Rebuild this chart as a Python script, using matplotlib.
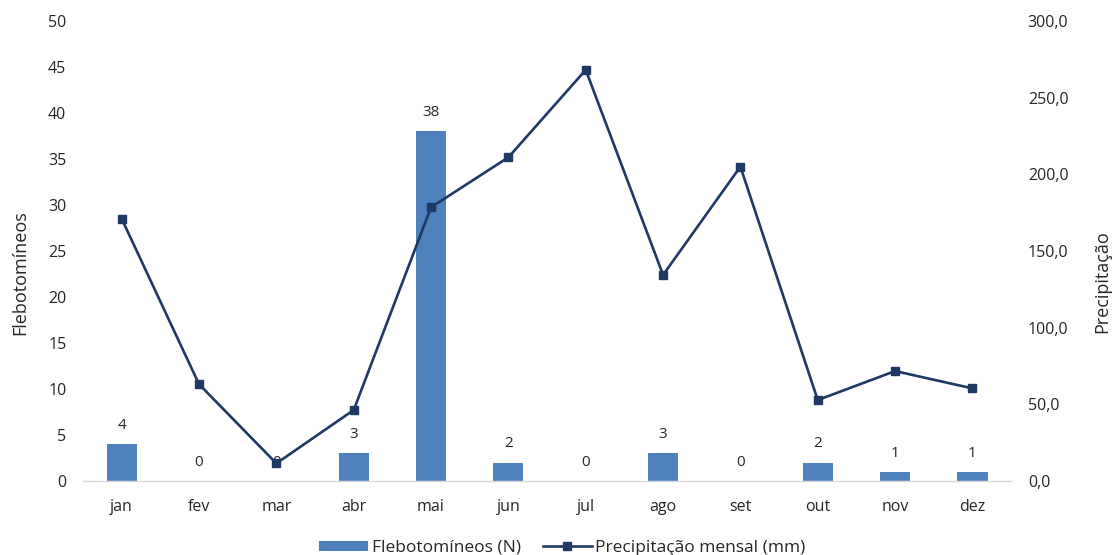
import matplotlib.pyplot as plt
import numpy as np
from matplotlib.ticker import FuncFormatter

meses = ["jan", "fev", "mar", "abr", "mai", "jun", "jul", "ago", "set", "out", "nov", "dez"]
flebotomineos = [4, 0, 0, 3, 38, 2, 0, 3, 0, 2, 1, 1]
precipitacao = [171.0, 63.1, 11.5, 46.3, 178.5, 211.1, 268.1, 134.4, 205.0, 52.8, 71.7, 60.4]

plt.rcParams['font.family'] = ['Open Sans', 'DejaVu Sans']
cor_barra = "#4F81BD"
cor_linha = "#1F3864"
cor_texto = "#262626"

fig = plt.figure(figsize=(11.16, 5.55), dpi=100)
ax = fig.add_axes([0.0744, 0.1333, 0.8316, 0.8289])
ax2 = ax.twinx()

x = np.arange(len(meses))
barras = ax.bar(x, flebotomineos, width=0.39, color=cor_barra, zorder=2,
                label="Flebotomíneos (N)")
for xi, v in zip(x, flebotomineos):
    ax.annotate(str(v), (xi, v), xytext=(0, 13.5), textcoords="offset points",
                ha="center", va="center", fontsize=11, color=cor_texto)

linha, = ax2.plot(x, precipitacao, color=cor_linha, lw=1.9, marker="s", ms=5.8,
                  label="Precipitação mensal (mm)", zorder=3)

ax.set_xlim(-0.5, len(meses) - 0.5)
ax.set_ylim(0, 50)
ax.set_yticks(range(0, 51, 5))
ax2.set_ylim(0, 300)
ax2.set_yticks(range(0, 301, 50))
ax2.yaxis.set_major_formatter(FuncFormatter(lambda v, p: f"{v:.1f}".replace(".", ",")))

ax.set_xticks(x)
ax.set_xticklabels(meses)

for a in (ax, ax2):
    for s in a.spines.values():
        s.set_visible(False)
    a.tick_params(length=0, labelsize=11.5, colors=cor_texto)
ax.spines["bottom"].set_visible(True)
ax.spines["bottom"].set_color("#D9D9D9")
ax.spines["bottom"].set_linewidth(1)
ax.tick_params(axis="x", pad=13)
ax.tick_params(axis="y", pad=12)
ax2.tick_params(axis="y", pad=12)
ax.set_zorder(ax2.get_zorder() - 1)
ax.patch.set_visible(False)

fig.text(0.018, 0.508, "Flebotomíneos", rotation=90, ha="center", va="center",
         fontsize=13, color=cor_texto)
fig.text(0.988, 0.492, "Precipitação", rotation=90, ha="center", va="center",
         fontsize=13, color=cor_texto)

fig.legend([barras, linha], ["Flebotomíneos (N)", "Precipitação mensal (mm)"],
           loc="center", bbox_to_anchor=(0.504, 0.013), ncol=2, frameon=False,
           fontsize=12.5, handlelength=2.8, handleheight=0.5, columnspacing=1.3,
           handletextpad=0.2, labelcolor=cor_texto)

fig.savefig("out.png", dpi=100)
